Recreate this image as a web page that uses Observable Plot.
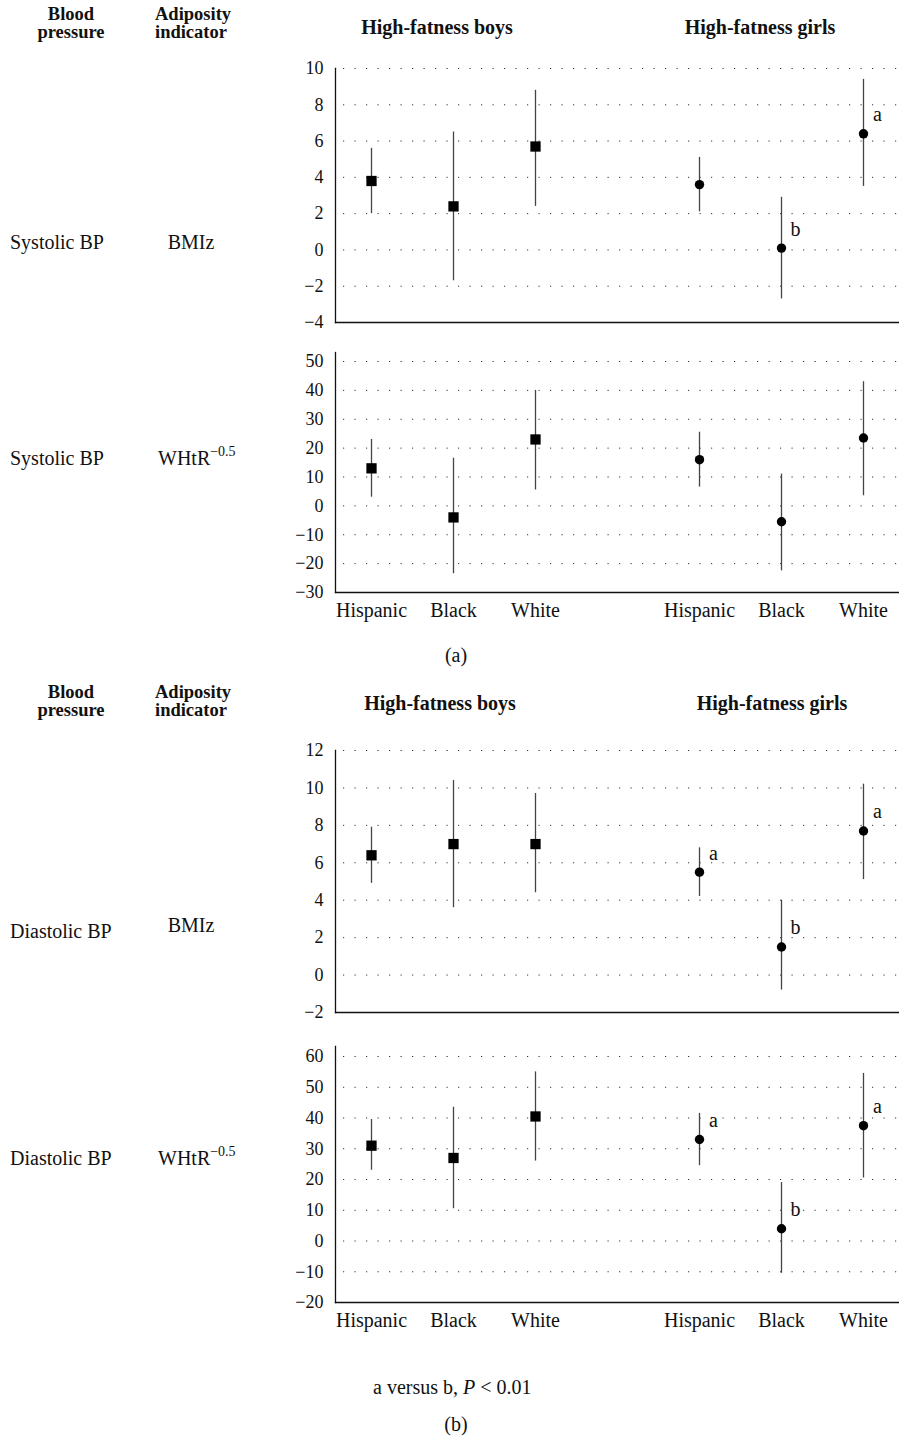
<!DOCTYPE html>
<html>
<head>
<meta charset="utf-8">
<script src="https://cdn.jsdelivr.net/npm/d3@7"></script>
<script src="https://cdn.jsdelivr.net/npm/@observablehq/plot@0.6"></script>
<style>
  html, body { margin: 0; padding: 0; background: #fff; }
  body { width: 899px; height: 1439px; position: relative; font-family: "Liberation Serif", "DejaVu Serif", serif; color: #111; }
  .t { position: absolute; font-size: 20px; line-height: 18px; white-space: nowrap; }
  .b { font-weight: bold; }
  .h2 { font-size: 18.5px; line-height: 18px; }
  .c { transform: translateX(-50%); text-align: center; }
  .panel { position: absolute; left: 0; }
  sup { font-size: 14px; vertical-align: 0; position: relative; top: -9px; }
</style>
</head>
<body>
<div id="root"></div>
<script>
// ---------- data ----------
const ethnicity = ["Hispanic", "Black", "White", "Hispanic", "Black", "White"];
const sex = ["boys", "boys", "boys", "girls", "girls", "girls"];
const groupTitles = ["High-fatness boys", "High-fatness girls"];

// Systolic BP, BMIz
const sbpBmizEst = [3.8, 2.4, 5.7, 3.6, 0.1, 6.4];
const sbpBmizLo  = [2.0, -1.7, 2.4, 2.1, -2.7, 3.5];
const sbpBmizHi  = [5.6, 6.5, 8.8, 5.1, 2.9, 9.4];
const sbpBmizSig = ["", "", "", "", "b", "a"];
const sbpBmizTicks = [-4, -2, 0, 2, 4, 6, 8, 10];

// Systolic BP, WHtR^-0.5
const sbpWhtrEst = [13, -4, 23, 16, -5.5, 23.5];
const sbpWhtrLo  = [3, -23.5, 5.5, 6.5, -22.5, 3.5];
const sbpWhtrHi  = [23, 16.5, 40, 25.5, 11, 43];
const sbpWhtrSig = ["", "", "", "", "", ""];
const sbpWhtrTicks = [-30, -20, -10, 0, 10, 20, 30, 40, 50];

// Diastolic BP, BMIz
const dbpBmizEst = [6.4, 7.0, 7.0, 5.5, 1.5, 7.7];
const dbpBmizLo  = [4.9, 3.6, 4.4, 4.2, -0.8, 5.1];
const dbpBmizHi  = [7.9, 10.4, 9.7, 6.8, 4.0, 10.2];
const dbpBmizSig = ["", "", "", "a", "b", "a"];
const dbpBmizTicks = [-2, 0, 2, 4, 6, 8, 10, 12];

// Diastolic BP, WHtR^-0.5
const dbpWhtrEst = [31, 27, 40.5, 33, 4, 37.5];
const dbpWhtrLo  = [23, 10.5, 26, 24.5, -10.5, 20.5];
const dbpWhtrHi  = [39.5, 43.5, 55, 41.5, 19, 54.5];
const dbpWhtrSig = ["", "", "", "a", "b", "a"];
const dbpWhtrTicks = [-20, -10, 0, 10, 20, 30, 40, 50, 60];

const xDomain = ["boys-Hispanic", "boys-Black", "boys-White", "gap", "girls-Hispanic", "girls-Black", "girls-White"];

function rows(est, lo, hi, sig) {
  return est.map((v, i) => ({key: sex[i] + "-" + ethnicity[i], sex: sex[i], eth: ethnicity[i], est: v, lo: lo[i], hi: hi[i], sig: sig[i]}));
}

function panel({est, lo, hi, sig, ticks, top, marginTop, marginBottom, plotH, insetTop, showX}) {
  const data = rows(est, lo, hi, sig);
  const ymin = ticks[0], ymax = ticks[ticks.length - 1];
  const chart = Plot.plot({
    width: 899,
    height: marginTop + plotH + marginBottom,
    marginLeft: 335,
    marginRight: 0,
    marginTop,
    marginBottom,
    x: {type: "point", domain: xDomain, padding: 0.42, axis: null},
    y: {domain: [ymin, ymax], insetTop, axis: null},
    style: {fontFamily: "Liberation Serif, DejaVu Serif, serif", fontSize: "18px", color: "#111", background: "transparent", overflow: "visible"},
    marks: [
      Plot.gridY(ticks.slice(1), {stroke: "#333", strokeOpacity: 1, strokeWidth: 1, strokeDasharray: "1.2,10.3", strokeDashoffset: -8}),
      Plot.frame({anchor: "left", stroke: "#111", strokeWidth: 1.3}),
      Plot.frame({anchor: "bottom", stroke: "#111", strokeWidth: 1.3}),
      Plot.axisY(ticks, {tickSize: 0, tickPadding: 12, fontSize: 18, fill: "#111", label: null}),
      Plot.ruleX(data, {x: "key", y1: "lo", y2: "hi", stroke: "#444", strokeWidth: 1.3}),
      Plot.dot(data.filter(d => d.sex === "boys"), {x: "key", y: "est", symbol: "square", r: 5.8, fill: "#000"}),
      Plot.dot(data.filter(d => d.sex === "girls"), {x: "key", y: "est", symbol: "circle", r: 4.7, fill: "#000"}),
      Plot.text(data.filter(d => d.sig), {x: "key", y: "est", text: "sig", dx: 14, dy: -19, fontSize: 20, fill: "#111", textAnchor: "middle"}),
      showX ? Plot.axisX(xDomain.filter(k => k !== "gap"), {tickSize: 0, tickPadding: 10, fontSize: 20, fill: "#111", label: null, tickFormat: k => k.split("-")[1]}) : null
    ]
  });
  const wrap = document.createElement("div");
  wrap.className = "panel";
  wrap.style.top = top + "px";
  wrap.appendChild(chart);
  document.getElementById("root").appendChild(wrap);
}

function text(str, x, y, cls) {
  const d = document.createElement("div");
  d.className = "t " + (cls || "");
  d.style.left = x + "px";
  d.style.top = (y - 9) + "px";
  d.innerHTML = str;
  document.getElementById("root").appendChild(d);
}

// ---------- part (a) ----------
text("Blood<br>pressure", 71, 14, "b c h2");
text("Adiposity<br>indicator", 155, 14, "b h2");
text(groupTitles[0], 437, 27, "b c");
text(groupTitles[1], 760, 27, "b c");
text("Systolic BP", 10, 242, "");
text("BMIz", 191, 242, "c");
text("Systolic BP", 10, 458, "");
text("WHtR<sup>−0.5</sup>", 158, 458, "");

panel({est: sbpBmizEst, lo: sbpBmizLo, hi: sbpBmizHi, sig: sbpBmizSig, ticks: sbpBmizTicks,
       top: 58, marginTop: 10, marginBottom: 6, plotH: 254, insetTop: 0, showX: false});
panel({est: sbpWhtrEst, lo: sbpWhtrLo, hi: sbpWhtrHi, sig: sbpWhtrSig, ticks: sbpWhtrTicks,
       top: 342, marginTop: 10, marginBottom: 40, plotH: 240, insetTop: 9, showX: true});

text("(a)", 456, 655, "c");

// ---------- part (b) ----------
text("Blood<br>pressure", 71, 692, "b c h2");
text("Adiposity<br>indicator", 155, 692, "b h2");
text(groupTitles[0], 440, 703, "b c");
text(groupTitles[1], 772, 703, "b c");
text("Diastolic BP", 10, 931, "");
text("BMIz", 191, 925, "c");
text("Diastolic BP", 10, 1158, "");
text("WHtR<sup>−0.5</sup>", 158, 1158, "");

panel({est: dbpBmizEst, lo: dbpBmizLo, hi: dbpBmizHi, sig: dbpBmizSig, ticks: dbpBmizTicks,
       top: 740, marginTop: 10, marginBottom: 6, plotH: 262, insetTop: 0, showX: false});
panel({est: dbpWhtrEst, lo: dbpWhtrLo, hi: dbpWhtrHi, sig: dbpWhtrSig, ticks: dbpWhtrTicks,
       top: 1036, marginTop: 10, marginBottom: 40, plotH: 256, insetTop: 10, showX: true});

text("a versus b, <i>P</i> &lt; 0.01", 373, 1387, "");
text("(b)", 456, 1424, "c");
</script>
</body>
</html>
